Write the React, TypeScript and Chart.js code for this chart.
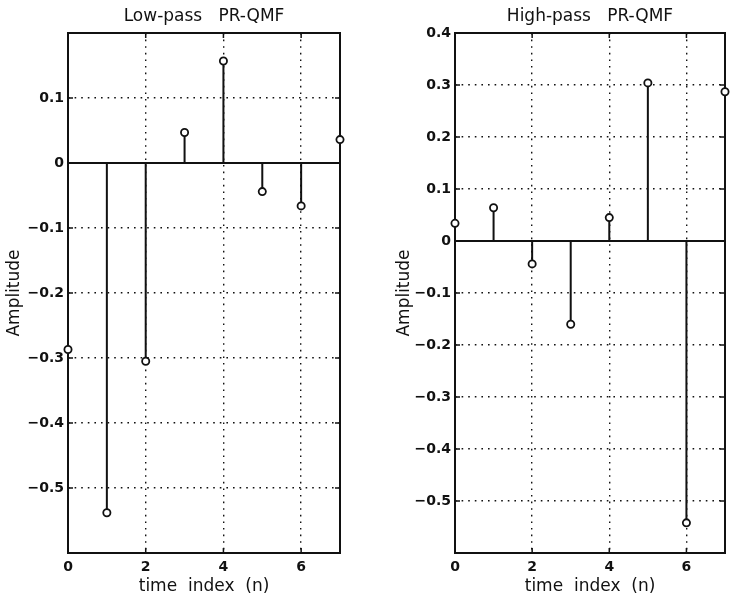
import React, { useEffect, useRef } from 'react';
import { Chart, registerables } from 'chart.js';

Chart.register(...registerables);

// ---------- data ----------
const nIndex = [0, 1, 2, 3, 4, 5, 6, 7];
const lowPass = [-0.287, -0.538, -0.305, 0.047, 0.157, -0.044, -0.066, 0.036];
const highPass = [0.034, 0.064, -0.044, -0.16, 0.045, 0.304, -0.542, 0.287];
const xTickValues = [0, 2, 4, 6];
const xRange = [0, 7];
const lowYTicks = [-0.5, -0.4, -0.3, -0.2, -0.1, 0, 0.1];
const highYTicks = [-0.5, -0.4, -0.3, -0.2, -0.1, 0, 0.1, 0.2, 0.3, 0.4];
const lowYRange = [-0.6, 0.2];
const highYRange = [-0.6, 0.4];
const lowTitle = 'Low-pass   PR-QMF';
const highTitle = 'High-pass   PR-QMF';
const xTitle = 'time  index  (n)';
const yTitle = 'Amplitude';

const INK = '#111';
const FONT = 'DejaVu Sans';

const fmtY = (v: number) => {
  if (Math.abs(v) < 1e-9) return '0';
  return (v < 0 ? '\u2212' : '') + Math.abs(v).toFixed(1);
};
const fmtX = (v: number) => String(Math.round(v));

const framePlugin = {
  id: 'frame',
  beforeDatasetsDraw(chart: any) {
    const { ctx, chartArea: a, scales } = chart;
    ctx.save();
    ctx.strokeStyle = INK;
    ctx.setLineDash([]);
    ctx.lineWidth = 2;
    ctx.strokeRect(a.left, a.top, a.right - a.left, a.bottom - a.top);
    ctx.lineWidth = 1.5;
    ctx.beginPath();
    const tl = 5;
    scales.y.ticks.forEach((t: any) => {
      const y = scales.y.getPixelForValue(t.value);
      ctx.moveTo(a.left, y);
      ctx.lineTo(a.left + tl, y);
      ctx.moveTo(a.right, y);
      ctx.lineTo(a.right - tl, y);
    });
    scales.x.ticks.forEach((t: any) => {
      const x = scales.x.getPixelForValue(t.value);
      ctx.moveTo(x, a.bottom);
      ctx.lineTo(x, a.bottom - tl);
      ctx.moveTo(x, a.top);
      ctx.lineTo(x, a.top + tl);
    });
    ctx.stroke();
    ctx.restore();
  },
};

type Props = {
  values: number[];
  yRange: number[];
  yTicks: number[];
  title: string;
  left: number;
  width: number;
  axisWidth: number;
  padRight: number;
  ampPad: number;
};

function StemChart(p: Props) {
  const ref = useRef<HTMLCanvasElement | null>(null);
  useEffect(() => {
    if (!ref.current) return;
    const stems: any[] = [];
    nIndex.forEach((n, i) => {
      stems.push({ x: n, y: 0 });
      stems.push({ x: n, y: p.values[i] });
      stems.push({ x: n, y: null });
    });
    const points = nIndex.map((n, i) => ({ x: n, y: p.values[i] }));
    const baseline = [
      { x: xRange[0], y: 0 },
      { x: xRange[1], y: 0 },
    ];
    const chart = new Chart(ref.current, {
      type: 'scatter',
      data: {
        datasets: [
          {
            data: points,
            order: 0,
            showLine: false,
            pointStyle: 'circle',
            pointRadius: 3.6,
            pointBorderWidth: 1.8,
            pointBorderColor: INK,
            pointBackgroundColor: '#fff',
            clip: false,
          } as any,
          {
            data: stems,
            order: 1,
            showLine: true,
            spanGaps: false,
            pointRadius: 0,
            borderColor: INK,
            borderWidth: 2,
          },
          {
            data: baseline,
            order: 2,
            showLine: true,
            pointRadius: 0,
            borderColor: INK,
            borderWidth: 2,
          },
        ],
      },
      options: {
        animation: false,
        responsive: false,
        devicePixelRatio: 1,
        layout: { padding: { left: 0, right: p.padRight, top: 0, bottom: 0 } },
        plugins: {
          legend: { display: false },
          tooltip: { enabled: false },
          title: {
            display: true,
            text: p.title,
            fullSize: false,
            color: INK,
            font: { family: FONT, size: 17, weight: 'normal' },
            padding: { top: 6.3, bottom: 6.3 },
          },
        },
        scales: {
          x: {
            type: 'linear',
            min: xRange[0],
            max: xRange[1],
            afterBuildTicks: (s: any) => {
              s.ticks = xTickValues.map((v) => ({ value: v }));
            },
            afterFit: (s: any) => {
              s.height = 53;
            },
            ticks: {
              color: INK,
              font: { family: FONT, size: 14, weight: 'bold' },
              padding: 6,
              maxRotation: 0,
              autoSkip: false,
              callback: (v: any) => fmtX(Number(v)),
            },
            grid: {
              color: INK,
              lineWidth: 1.4,
              drawTicks: false,
            },
            border: { display: false, dash: [1.6, 5] },
            title: {
              display: true,
              text: xTitle,
              color: INK,
              font: { family: FONT, size: 17 },
              padding: { top: 0, bottom: 8.8 },
            },
          },
          y: {
            type: 'linear',
            min: p.yRange[0],
            max: p.yRange[1],
            afterBuildTicks: (s: any) => {
              s.ticks = p.yTicks.map((v) => ({ value: v }));
            },
            afterFit: (s: any) => {
              s.width = p.axisWidth;
            },
            ticks: {
              color: INK,
              font: { family: FONT, size: 14, weight: 'bold' },
              padding: 4,
              autoSkip: false,
              callback: (v: any) => fmtY(Number(v)),
            },
            grid: {
              color: INK,
              lineWidth: 1.4,
              drawTicks: false,
            },
            border: { display: false, dash: [1.6, 5] },
            title: {
              display: true,
              text: yTitle,
              color: INK,
              font: { family: FONT, size: 17 },
              padding: { top: p.ampPad, bottom: 0 },
            },
          },
        },
      },
      plugins: [framePlugin],
    } as any);
    return () => chart.destroy();
  }, []);
  return (
    <canvas
      ref={ref}
      width={p.width}
      height={606}
      style={{ position: 'absolute', left: p.left, top: 0, width: p.width, height: 606 }}
    />
  );
}

export default function App() {
  return (
    <div
      style={{
        position: 'absolute',
        left: 0,
        top: 0,
        width: 734,
        height: 606,
        background: '#fff',
        overflow: 'hidden',
      }}
    >
      <StemChart
        values={lowPass}
        yRange={lowYRange}
        yTicks={lowYTicks}
        title={lowTitle}
        left={0}
        width={367}
        axisWidth={68}
        padRight={27}
        ampPad={4.8}
      />
      <StemChart
        values={highPass}
        yRange={highYRange}
        yTicks={highYTicks}
        title={highTitle}
        left={367}
        width={367}
        axisWidth={88}
        padRight={9}
        ampPad={27.8}
      />
    </div>
  );
}
